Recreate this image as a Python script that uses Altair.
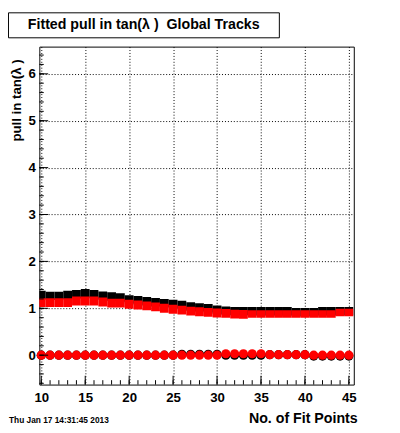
import altair as alt
import pandas as pd

# ---------------- data ----------------
fit_points = list(range(10, 46))

black_mean = [1.285, 1.265, 1.265, 1.285, 1.300, 1.320, 1.300, 1.270, 1.250, 1.230,
              1.190, 1.170, 1.150, 1.130, 1.110, 1.090, 1.070, 1.040, 1.020, 1.000,
              0.970, 0.950, 0.940, 0.940, 0.937, 0.937, 0.937, 0.937, 0.937, 0.916,
              0.916, 0.916, 0.937, 0.937, 0.937, 0.937]
black_err = [0.09] * 36

red_mean = [1.120, 1.120, 1.120, 1.120, 1.156, 1.156, 1.156, 1.135, 1.110, 1.110,
            1.085, 1.070, 1.051, 1.030, 1.002, 0.981, 0.960, 0.940, 0.925, 0.912,
            0.898, 0.891, 0.875, 0.870, 0.878, 0.878, 0.878, 0.878, 0.878, 0.878,
            0.878, 0.878, 0.878, 0.878, 0.910, 0.910]
red_err = [0.095] * 24 + [0.08] * 12

black_zero = [0.0] * 16 + [0.02] * 5 + [0.0] * 5 + [0.01] * 5 + [-0.02] * 5
red_zero = [0.0] * 21 + [0.03] * 5 + [0.01] * 5 + [0.0] * 5

x_major = [10, 15, 20, 25, 30, 35, 40, 45]
x_minor = list(range(10, 46))
y_major = [0, 1, 2, 3, 4, 5, 6]
y_minor = [round(-0.6 + 0.2 * i, 2) for i in range(36)]

title_text = "Fitted pull in tan(\u03bb )\u00a0 Global Tracks"
y_title = "pull in tan(\u03bb )"
x_title = "No. of Fit Points"
date_text = "Thu Jan 17 14:31:45 2013"

# ---------------- layout ----------------
W, H = 321, 345
FONT = "Liberation Sans"
xs = alt.Scale(domain=[9.78, 45.56], nice=False, zero=False)
ys = alt.Scale(domain=[-0.627, 6.58], nice=False, zero=False)

df = pd.DataFrame({
    "n": fit_points,
    "bm": black_mean, "be": black_err,
    "rm": red_mean, "re": red_err,
    "b0": black_zero, "r0": red_zero,
})
df["lo"] = df["n"] - 0.5
df["hi"] = df["n"] + 0.5
df["b_lo"] = df["bm"] - df["be"]
df["b_hi"] = df["bm"] + df["be"]
df["r_lo"] = df["rm"] - df["re"]
df["r_hi"] = df["rm"] + df["re"]

base = alt.Chart(df)

xaxis = alt.Axis(values=x_major, grid=True, gridDash=[1, 2], gridColor="black",
                 gridOpacity=1, ticks=False, domain=False, title=None,
                 labelFont=FONT, labelFontWeight="bold", labelFontSize=13.5,
                 labelColor="black", labelPadding=6, labelFlush=False)
yaxis = alt.Axis(values=y_major, grid=True, gridDash=[1, 2], gridColor="black",
                 gridOpacity=1, ticks=False, domain=False, title=None,
                 labelFont=FONT, labelFontWeight="bold", labelFontSize=13.5,
                 labelColor="black", labelPadding=4, labelFlush=False)

black_band = base.mark_rect(color="black", clip=True).encode(
    x=alt.X("lo:Q", scale=xs, axis=xaxis), x2="hi:Q",
    y=alt.Y("b_lo:Q", scale=ys, axis=yaxis), y2="b_hi:Q")
red_band = base.mark_rect(color="#ff0000", clip=True).encode(
    x=alt.X("lo:Q", scale=xs), x2="hi:Q",
    y=alt.Y("r_lo:Q", scale=ys), y2="r_hi:Q")
black_pts = base.mark_point(shape="circle", filled=True, color="black", size=88,
                            opacity=1).encode(
    x=alt.X("n:Q", scale=xs), y=alt.Y("b0:Q", scale=ys))
red_pts = base.mark_point(shape="circle", filled=True, color="#ff0000", size=88,
                          opacity=1).encode(
    x=alt.X("n:Q", scale=xs), y=alt.Y("r0:Q", scale=ys))

# inward ticks (ROOT style)
xmaj = alt.Chart(pd.DataFrame({"t": x_major})).mark_rule(color="black", strokeWidth=1).encode(
    x=alt.X("t:Q", scale=xs), y=alt.value(H), y2=alt.value(H - 9))
xmin = alt.Chart(pd.DataFrame({"t": x_minor})).mark_rule(color="black", strokeWidth=1).encode(
    x=alt.X("t:Q", scale=xs), y=alt.value(H), y2=alt.value(H - 4.5))
ymaj = alt.Chart(pd.DataFrame({"t": y_major})).mark_rule(color="black", strokeWidth=1).encode(
    y=alt.Y("t:Q", scale=ys), x=alt.value(0), x2=alt.value(9))
ymin = alt.Chart(pd.DataFrame({"t": y_minor})).mark_rule(color="black", strokeWidth=1).encode(
    y=alt.Y("t:Q", scale=ys), x=alt.value(0), x2=alt.value(4.5))

# title box
tdf = pd.DataFrame({"t": [title_text]})
title_box = alt.Chart(tdf).mark_rect(fill="white", stroke="black", strokeWidth=1).encode(
    x=alt.value(-31.5), x2=alt.value(245), y=alt.value(-34.5), y2=alt.value(-9))
title_lbl = alt.Chart(tdf).mark_text(font=FONT, fontWeight="bold", fontSize=14.5,
                                     color="black", align="center", baseline="middle").encode(
    x=alt.value(106.5), y=alt.value(-21.5), text="t:N")

ytitle = alt.Chart(pd.DataFrame({"t": [y_title]})).mark_text(
    font=FONT, fontWeight="bold", fontSize=13.5, color="black", angle=270,
    align="right", baseline="middle").encode(
    x=alt.value(-23), y=alt.value(13), text="t:N")
xtitle = alt.Chart(pd.DataFrame({"t": [x_title]})).mark_text(
    font=FONT, fontWeight="bold", fontSize=14.5, color="black",
    align="right", baseline="alphabetic").encode(
    x=alt.value(325), y=alt.value(384), text="t:N")
date_lbl = alt.Chart(pd.DataFrame({"t": [date_text]})).mark_text(
    font=FONT, fontWeight="bold", fontSize=8.5, color="black",
    align="left", baseline="alphabetic").encode(
    x=alt.value(-31), y=alt.value(384), text="t:N")

chart = alt.layer(
    black_band, red_band, black_pts, red_pts,
    xmaj, xmin, ymaj, ymin,
    title_box, title_lbl, ytitle, xtitle, date_lbl,
).properties(
    width=W, height=H, autosize="none",
    padding={"left": 32, "top": 35, "right": 39, "bottom": 45},
    background="white",
).configure_view(stroke="black", strokeWidth=1, fill="white")

chart.save("out.html", embed_options={"renderer": "svg", "actions": False})
